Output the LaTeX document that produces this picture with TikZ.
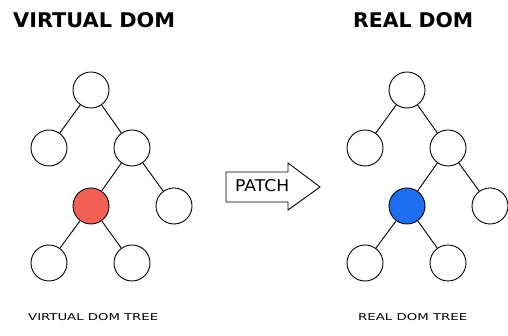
\documentclass[tikz,border=0pt]{standalone}
\usepackage{fontspec}
\usepackage{graphicx}
\setmainfont{DejaVu Sans}
\begin{document}
\begin{tikzpicture}[x=1pt,y=1pt,
  dnode/.style={circle,draw=black,line width=0.9pt,minimum size=36pt,inner sep=0pt,fill=white},
  edge/.style={draw=black,line width=0.9pt},
  lbl/.style={anchor=base west,inner sep=0pt}]
\useasboundingbox (0,0) rectangle (508,336);
% left tree
\node[dnode] (a1) at (91,246) {};
\node[dnode] (a2) at (49,188) {};
\node[dnode] (a3) at (132,188) {};
\node[dnode,fill={rgb,255:red,242;green,96;blue,86}] (a4) at (91,130) {};
\node[dnode] (a5) at (174,130) {};
\node[dnode] (a6) at (49,73) {};
\node[dnode] (a7) at (132,73) {};
\draw[edge] (a1) -- (a2); \draw[edge] (a1) -- (a3);
\draw[edge] (a3) -- (a4); \draw[edge] (a3) -- (a5);
\draw[edge] (a4) -- (a6); \draw[edge] (a4) -- (a7);
% right tree
\node[dnode] (b1) at (407,246) {};
\node[dnode] (b2) at (365,188) {};
\node[dnode] (b3) at (448,188) {};
\node[dnode,fill={rgb,255:red,29;green,110;blue,240}] (b4) at (407,130) {};
\node[dnode] (b5) at (490,130) {};
\node[dnode] (b6) at (365,73) {};
\node[dnode] (b7) at (448,73) {};
\draw[edge] (b1) -- (b2); \draw[edge] (b1) -- (b3);
\draw[edge] (b3) -- (b4); \draw[edge] (b3) -- (b5);
\draw[edge] (b4) -- (b6); \draw[edge] (b4) -- (b7);
% arrow
\draw[edge,fill=white] (226,164) -- (226,134) -- (288,134) -- (288,126) -- (320,149) -- (288,173) -- (288,164) -- cycle;
\node[lbl] (patch) at (235,144) {\resizebox{54pt}{12pt}{PATCH}};
% titles
\node[lbl] (t1) at (13,308) {\resizebox{162pt}{15pt}{\bfseries VIRTUAL DOM}};
\node[lbl] (t2) at (353,308) {\resizebox{120pt}{15pt}{\bfseries REAL DOM}};
\node[lbl] (c1) at (28,15) {\resizebox{130pt}{7pt}{VIRTUAL DOM TREE}};
\node[lbl] (c2) at (358,15) {\resizebox{109pt}{7pt}{REAL DOM TREE}};
\end{tikzpicture}
\end{document}
